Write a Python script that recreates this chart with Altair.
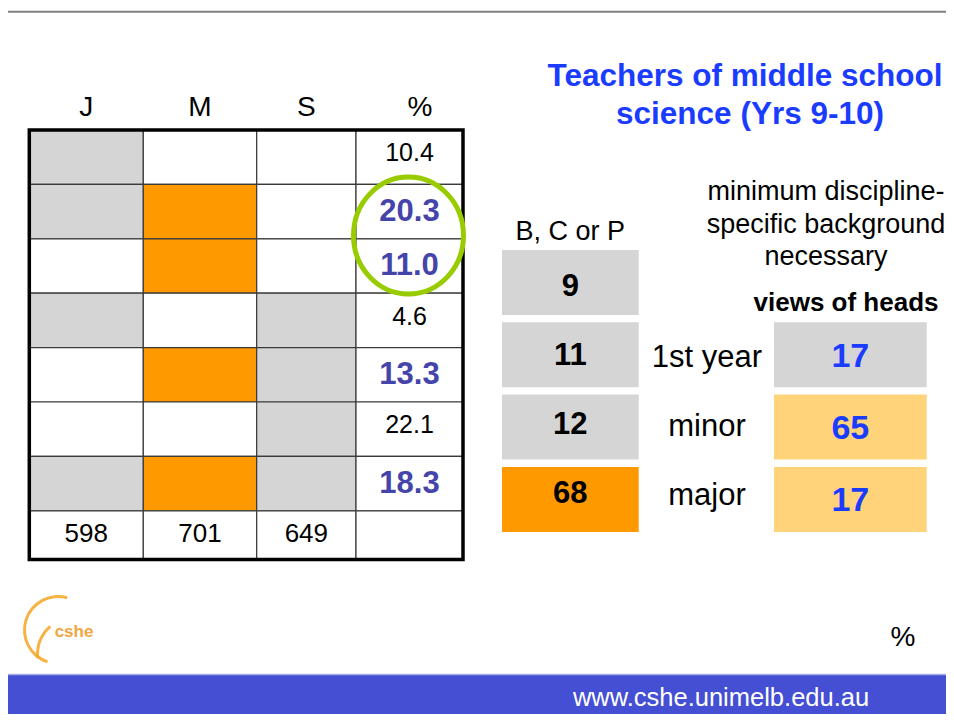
import altair as alt
import pandas as pd

# ---------------- data ----------------
COLUMNS = ["J", "M", "S", "%"]
CELL_FILL = [            # J, M, S
    ["grey", "white", "white"],
    ["grey", "orange", "white"],
    ["white", "orange", "white"],
    ["grey", "white", "grey"],
    ["white", "orange", "grey"],
    ["white", "white", "grey"],
    ["grey", "orange", "grey"],
]
PCT = [10.4, 20.3, 11.0, 4.6, 13.3, 22.1, 18.3]
PCT_HIGHLIGHT = [False, True, True, False, True, False, True]
COL_TOTALS = [598, 701, 649]

BCP_HEADER = "B, C or P"
BCP_VALUES = [9, 11, 12, 68]
BCP_FILL = ["grey", "grey", "grey", "orange"]

BG_NOTE = ["minimum discipline-", "specific background", "necessary"]
HEADS_HEADER = "views of heads"
BG_LEVELS = ["1st year", "minor", "major"]
HEADS_VALUES = [17, 65, 17]
HEADS_FILL = ["grey", "peach", "peach"]

TITLE = ["Teachers of middle school", "science (Yrs 9-10)"]
UNIT = "%"
LOGO_TEXT = "cshe"
URL = "www.cshe.unimelb.edu.au"

# ---------------- style / layout ----------------
PALETTE = {"grey": "#d5d5d5", "orange": "#ff9900", "white": "#ffffff", "peach": "#ffd37a"}
FONT = "Liberation Sans"
TITLE_BLUE = "#1a3cff"
HI_BLUE = "#4444aa"
BAR_BLUE = "#444fd4"

COL_EDGES = [29.3, 143.3, 256.7, 356.0, 463.0]
HEADER_SHIFT = [0, 0, 0, 10.5]
ROW_TOP, ROW_H, TABLE_BOTTOM = 130.0, 54.4, 559.5
ROW_EDGES = [ROW_TOP + ROW_H * i for i in range(len(PCT) + 1)] + [TABLE_BOTTOM]

MID_X = (502.0, 638.7)
RIGHT_X = (774.0, 926.7)
BOX_TOP0, BOX_STEP, BOX_H = 250.0, 72.3, 65.0

XS = alt.Scale(domain=[8, 946], nice=False, zero=False)
YS = alt.Scale(domain=[8, 714], reverse=True, nice=False, zero=False)


def X(f="x"):
    return alt.X(f"{f}:Q", scale=XS, axis=None)


def Y(f="y"):
    return alt.Y(f"{f}:Q", scale=YS, axis=None)


# ---- table cells ----
cells = []
for r in range(len(PCT) + 1):
    for c in range(4):
        if r < len(PCT) and c < 3:
            fill = PALETTE[CELL_FILL[r][c]]
        else:
            fill = PALETTE["white"]
        cells.append(dict(x=COL_EDGES[c], x2=COL_EDGES[c + 1], y=ROW_EDGES[r], y2=ROW_EDGES[r + 1], fill=fill))
cells = pd.DataFrame(cells)

border = pd.DataFrame([dict(x=COL_EDGES[0], x2=COL_EDGES[-1], y=ROW_EDGES[0], y2=ROW_EDGES[-1])])

# ---- boxes ----
boxes = []
for i, v in enumerate(BCP_VALUES):
    t = BOX_TOP0 + BOX_STEP * i
    boxes.append(dict(x=MID_X[0], x2=MID_X[1], y=t, y2=t + BOX_H, fill=PALETTE[BCP_FILL[i]]))
for i, v in enumerate(HEADS_VALUES):
    t = BOX_TOP0 + BOX_STEP * (i + 1)
    boxes.append(dict(x=RIGHT_X[0], x2=RIGHT_X[1], y=t, y2=t + BOX_H, fill=PALETTE[HEADS_FILL[i]]))
boxes.append(dict(x=8, x2=946, y=674, y2=714, fill=BAR_BLUE))
boxes = pd.DataFrame(boxes)

# ---- texts ----
texts = []


def add(x, y, s, color="#000000", size=26, weight="normal"):
    texts.append(dict(x=x, y=y, text=s, color=color, size=size, weight=weight))


for c, name in enumerate(COLUMNS):
    add((COL_EDGES[c] + COL_EDGES[c + 1]) / 2 + HEADER_SHIFT[c], 116, name, size=28)
pct_cx = (COL_EDGES[3] + COL_EDGES[4]) / 2
for r, (v, hi) in enumerate(zip(PCT, PCT_HIGHLIGHT)):
    if hi:
        add(pct_cx, ROW_EDGES[r] + 36.3, f"{v:.1f}", HI_BLUE, 31, "bold")
    else:
        add(pct_cx, ROW_EDGES[r] + 31.3, f"{v:.1f}", "#000000", 25)
for c, v in enumerate(COL_TOTALS):
    add((COL_EDGES[c] + COL_EDGES[c + 1]) / 2, ROW_EDGES[len(PCT)] + 31.5, str(v), size=26)

mid_cx = sum(MID_X) / 2
right_cx = sum(RIGHT_X) / 2
add(mid_cx, 239.5, BCP_HEADER, size=27)
for i, v in enumerate(BCP_VALUES):
    add(mid_cx, 296 + 69.1 * i, str(v), size=31, weight="bold")
for i, line in enumerate(BG_NOTE):
    add(826, 200 + 32.5 * i, line, size=27)
add(846, 311, HEADS_HEADER, size=26, weight="bold")
for i, (lab, v) in enumerate(zip(BG_LEVELS, HEADS_VALUES)):
    add(707, 367.3 + 68.9 * i, lab, size=31)
    add(right_cx, 367.3 + 71.8 * i, str(v), TITLE_BLUE, 34, "bold")

add(745, 86, TITLE[0], TITLE_BLUE, 31.5, "bold")
add(750, 124, TITLE[1], TITLE_BLUE, 31.5, "bold")
add(903, 646, UNIT, size=28)
add(721, 706, URL, "#ffffff", 25.5)
add(74, 637, LOGO_TEXT, "#f2a541", 17, "bold")
texts = pd.DataFrame(texts)


def text_layer(weight):
    return alt.Chart(texts[texts.weight == weight]).mark_text(
        font=FONT, fontWeight=weight, align="center", baseline="alphabetic"
    ).encode(
        x=X(), y=Y(), text="text:N",
        color=alt.Color("color:N", scale=None),
        size=alt.Size("size:Q", scale=None),
    )


# ---- decorations ----
frame = pd.DataFrame([dict(x=8, x2=946, y=11.7)])
bar_edge = pd.DataFrame([dict(x=8, x2=946, y=674.5)])
circle = pd.DataFrame([dict(x=408.5, y=235.5)])
ELLIPSE = ("M 0.94 0 C 0.94 0.5523 0.5192 1 0 1 C -0.5192 1 -0.94 0.5523 -0.94 0 "
           "C -0.94 -0.5523 -0.5192 -1 0 -1 C 0.5192 -1 0.94 -0.5523 0.94 0 Z")
logo1 = pd.DataFrame([dict(x=58, y=630)])
logo2 = pd.DataFrame([dict(x=76, y=655)])

layers = [
    alt.Chart(frame).mark_rule(color="#808080", strokeWidth=2).encode(x=X(), x2=alt.X2("x2:Q"), y=Y()),
    alt.Chart(boxes).mark_rect().encode(
        x=X(), x2=alt.X2("x2:Q"), y=Y(), y2=alt.Y2("y2:Q"), fill=alt.Fill("fill:N", scale=None)),
    alt.Chart(bar_edge).mark_rule(color="#a9aee6", strokeWidth=1.5).encode(x=X(), x2=alt.X2("x2:Q"), y=Y()),
    alt.Chart(cells).mark_rect(stroke="#3a3a3a", strokeWidth=1.2).encode(
        x=X(), x2=alt.X2("x2:Q"), y=Y(), y2=alt.Y2("y2:Q"), fill=alt.Fill("fill:N", scale=None)),
    alt.Chart(border).mark_rect(fill="transparent", stroke="#000000", strokeWidth=3.5).encode(
        x=X(), x2=alt.X2("x2:Q"), y=Y(), y2=alt.Y2("y2:Q")),
    alt.Chart(logo1).mark_arc(radius=35, radius2=32, theta=3.46, theta2=6.56,
                              color="#f5a623", opacity=0.85).encode(x=X(), y=Y()),
    alt.Chart(logo2).mark_arc(radius=40, radius2=37, theta=4.63, theta2=5.55,
                              color="#f5a623", opacity=0.85).encode(x=X(), y=Y()),
    text_layer("normal"),
    text_layer("bold"),
    alt.Chart(circle).mark_point(shape=ELLIPSE, size=13689, filled=False,
                                 color="#99cc00", strokeWidth=5, opacity=1).encode(x=X(), y=Y()),
]

chart = alt.layer(*layers).properties(
    width=938, height=706,
    autosize=alt.AutoSizeParams(type="none"),
    padding=0, background="#ffffff",
).configure_view(strokeWidth=0)

chart.save("out.html", embed_options={"renderer": "svg", "actions": False})
